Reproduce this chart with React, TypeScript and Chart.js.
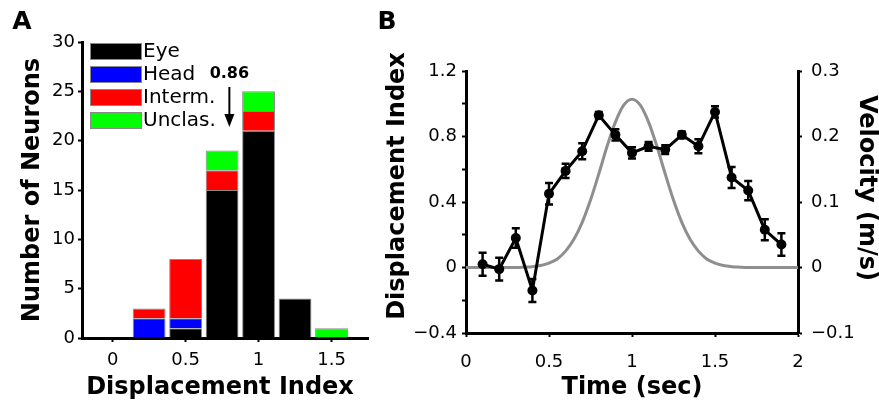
import React, { useEffect, useRef } from 'react';
import { Chart, registerables } from 'chart.js';

Chart.register(...registerables);

const FONT = "'DejaVu Sans', 'Liberation Sans', Arial, sans-serif";

// ---------- Panel A: histogram of displacement index ----------
const histBins = [0.25, 0.5, 0.75, 1.0, 1.25, 1.5];
const eyeCounts = [0, 1, 15, 21, 4, 0];
const headCounts = [2, 1, 0, 0, 0, 0];
const intermCounts = [1, 6, 2, 2, 0, 0];
const unclasCounts = [0, 0, 2, 2, 0, 1];
const classLabels = ['Eye', 'Head', 'Interm.', 'Unclas.'];
const classColors = ['#000000', '#0000ff', '#ff0000', '#00ff00'];
const histXTicks = [0, 0.5, 1, 1.5];
const histXTickLabels = ['0', '0.5', '1', '1.5'];
const histYTicks = [0, 5, 10, 15, 20, 25, 30];
const histYTickLabels = ['0', '5', '10', '15', '20', '25', '30'];
const meanIndexX = 0.8;
const meanIndexLabel = '0.86';

// ---------- Panel B: displacement index over time + velocity ----------
const timePoints = [0.1, 0.2, 0.3, 0.4, 0.5, 0.6, 0.7, 0.8, 0.9, 1.0, 1.1, 1.2, 1.3, 1.4, 1.5, 1.6, 1.7, 1.8, 1.9];
const dispIndex = [0.02, -0.01, 0.18, -0.14, 0.45, 0.59, 0.71, 0.93, 0.81, 0.70, 0.74, 0.72, 0.81, 0.74, 0.95, 0.55, 0.47, 0.23, 0.14];
const dispErr = [0.07, 0.07, 0.06, 0.07, 0.066, 0.043, 0.049, 0.02, 0.035, 0.035, 0.027, 0.027, 0.02, 0.043, 0.034, 0.064, 0.059, 0.064, 0.069];
const velTime = [0, 0.3, 0.35, 0.4, 0.45, 0.5, 0.55, 0.6, 0.65, 0.7, 0.75, 0.8, 0.85, 0.9, 0.95, 1.0, 1.05, 1.1, 1.15, 1.2, 1.25, 1.3, 1.35, 1.4, 1.45, 1.5, 1.55, 1.6, 1.65, 1.7, 2.0];
const velocity = [0, 0, 0.0005, 0.0013, 0.003, 0.0067, 0.013, 0.025, 0.043, 0.069, 0.103, 0.143, 0.185, 0.222, 0.248, 0.257, 0.248, 0.222, 0.185, 0.143, 0.103, 0.069, 0.043, 0.025, 0.013, 0.0067, 0.003, 0.0013, 0.0005, 0, 0];
const timeTicks = [0, 0.5, 1, 1.5, 2];
const timeTickLabels = ['0', '0.5', '1', '1.5', '2'];
const dispTicks = [-0.4, -0.2, 0, 0.2, 0.4, 0.6, 0.8, 1.0, 1.2];
const dispTickLabels = ['\u22120.4', '', '0', '', '0.4', '', '0.8', '', '1.2'];
const velTicks = [-0.1, 0, 0.1, 0.2, 0.3];
const velTickLabels = ['\u22120.1', '0', '0.1', '0.2', '0.3'];

function drawText(
  ctx: CanvasRenderingContext2D,
  text: string,
  x: number,
  y: number,
  font: string,
  rot = 0,
  align: CanvasTextAlign = 'center'
) {
  ctx.save();
  ctx.translate(x, y);
  ctx.rotate(rot);
  ctx.font = font;
  ctx.fillStyle = '#000';
  ctx.textAlign = align;
  ctx.textBaseline = 'middle';
  ctx.fillText(text, 0, 0);
  ctx.restore();
}

const axisCommon = (ticks: number[], labels: string[], pad: number) => ({
  offset: false,
  afterBuildTicks: (s: any) => {
    s.ticks = ticks.map((v) => ({ value: v }));
  },
  ticks: {
    font: { family: FONT, size: 18 },
    color: '#000',
    padding: pad,
    autoSkip: false,
    maxRotation: 0,
    callback: (_v: any, i: number) => labels[i],
  },
  grid: { offset: false, drawOnChartArea: false, drawTicks: true, tickLength: 4, color: '#000', tickWidth: 2 },
  border: { display: true, color: '#000', width: 3 },
});

export default function App() {
  const refA = useRef<HTMLCanvasElement>(null);
  const refB = useRef<HTMLCanvasElement>(null);

  useEffect(() => {
    const series = [eyeCounts, headCounts, intermCounts, unclasCounts];
    const panelAPlugin = {
      id: 'panelA',
      afterDraw(chart: any) {
        const { ctx, chartArea: ca, scales } = chart;
        classLabels.forEach((lab, k) => {
          const bx = ca.left + 8;
          const by = ca.top + 1 + k * 23;
          ctx.save();
          ctx.fillStyle = classColors[k];
          ctx.fillRect(bx, by, 52, 17);
          ctx.strokeStyle = '#8a8a8a';
          ctx.lineWidth = 1;
          ctx.strokeRect(bx + 0.5, by + 0.5, 51, 16);
          ctx.restore();
          drawText(ctx, lab, bx + 53, by + 9, `20px ${FONT}`, 0, 'left');
        });
        const ax = scales.x.getPixelForValue(meanIndexX);
        drawText(ctx, meanIndexLabel, ax, 74, `bold 16px ${FONT}`);
        ctx.save();
        ctx.strokeStyle = '#000';
        ctx.fillStyle = '#000';
        ctx.lineWidth = 2;
        ctx.beginPath();
        ctx.moveTo(ax, 87);
        ctx.lineTo(ax, 117);
        ctx.stroke();
        ctx.beginPath();
        ctx.moveTo(ax - 5, 114);
        ctx.lineTo(ax + 5, 114);
        ctx.lineTo(ax, 127);
        ctx.closePath();
        ctx.fill();
        ctx.restore();
        drawText(ctx, 'Number of Neurons', 33, (ca.top + ca.bottom) / 2, `bold 24px ${FONT}`, -Math.PI / 2);
        drawText(ctx, 'Displacement Index', 220, 388, `bold 24px ${FONT}`);
        drawText(ctx, 'A', 22, 22, `bold 25px ${FONT}`);
      },
    };

    const chartA = new Chart(refA.current!, {
      type: 'bar',
      data: {
        datasets: classLabels.map((lab, k) => ({
          label: lab,
          data: histBins.map((x, i) => ({ x, y: series[k][i] === 0 ? null : series[k][i] })),
          backgroundColor: classColors[k],
          borderColor: '#8a8a8a',
          borderWidth: 1,
          barPercentage: 0.9,
          categoryPercentage: 1,
        })) as any,
      },
      options: {
        animation: false,
        responsive: false,
        devicePixelRatio: 1,
        layout: { padding: { left: 0, right: 72, top: 42, bottom: 0 } },
        plugins: { legend: { display: false }, tooltip: { enabled: false } },
        scales: {
          x: {
            type: 'linear',
            stacked: true,
            min: -0.21,
            max: 1.75,
            afterFit: (s: any) => {
              s.height = 68;
            },
            ...axisCommon(histXTicks, histXTickLabels, 8),
          } as any,
          y: {
            type: 'linear',
            stacked: true,
            min: 0,
            max: 30,
            afterFit: (s: any) => {
              s.width = 82;
            },
            ...axisCommon(histYTicks, histYTickLabels, 3),
          } as any,
        },
      },
      plugins: [panelAPlugin],
    });

    const offB = 370;
    const panelBPlugin = {
      id: 'panelB',
      afterDatasetsDraw(chart: any) {
        const { ctx, scales } = chart;
        ctx.save();
        ctx.strokeStyle = '#000';
        ctx.lineWidth = 2.5;
        timePoints.forEach((t, i) => {
          const x = scales.x.getPixelForValue(t);
          const y1 = scales.y.getPixelForValue(dispIndex[i] + dispErr[i]);
          const y2 = scales.y.getPixelForValue(dispIndex[i] - dispErr[i]);
          ctx.beginPath();
          ctx.moveTo(x, y1);
          ctx.lineTo(x, y2);
          ctx.moveTo(x - 4, y1);
          ctx.lineTo(x + 4, y1);
          ctx.moveTo(x - 4, y2);
          ctx.lineTo(x + 4, y2);
          ctx.stroke();
        });
        ctx.restore();
      },
      afterDraw(chart: any) {
        const { ctx, chartArea: ca } = chart;
        drawText(ctx, 'B', 387 - offB, 22, `bold 25px ${FONT}`);
        drawText(ctx, 'Displacement Index', 398 - offB, 186, `bold 24px ${FONT}`, -Math.PI / 2);
        drawText(ctx, 'Velocity (m/s)', 866 - offB, 188, `bold 24px ${FONT}`, Math.PI / 2);
        drawText(ctx, 'Time (sec)', (ca.left + ca.right) / 2, 388, `bold 24px ${FONT}`);
      },
    };

    const chartB = new Chart(refB.current!, {
      type: 'line',
      data: {
        datasets: [
          {
            label: 'Displacement Index',
            data: timePoints.map((t, i) => ({ x: t, y: dispIndex[i] })),
            borderColor: '#000',
            backgroundColor: '#000',
            borderWidth: 3,
            pointRadius: 5,
            pointBorderWidth: 0,
            yAxisID: 'y',
          },
          {
            label: 'Velocity',
            data: velTime.map((t, i) => ({ x: t, y: velocity[i] })),
            borderColor: '#8e8e8e',
            borderWidth: 3,
            pointRadius: 0,
            cubicInterpolationMode: 'monotone',
            yAxisID: 'y1',
          },
        ] as any,
      },
      options: {
        animation: false,
        responsive: false,
        devicePixelRatio: 1,
        layout: { padding: { left: 0, right: 0, top: 71, bottom: 0 } },
        plugins: { legend: { display: false }, tooltip: { enabled: false } },
        scales: {
          x: {
            type: 'linear',
            min: 0,
            max: 2,
            afterFit: (s: any) => {
              s.height = 73;
            },
            ...axisCommon(timeTicks, timeTickLabels, 15),
          } as any,
          y: {
            type: 'linear',
            position: 'left',
            min: -0.4,
            max: 1.2,
            afterFit: (s: any) => {
              s.width = 96;
            },
            ...axisCommon(dispTicks, dispTickLabels, 5),
          } as any,
          y1: {
            type: 'linear',
            position: 'right',
            min: -0.1,
            max: 0.3,
            afterFit: (s: any) => {
              s.width = 81;
            },
            ...axisCommon(velTicks, velTickLabels, 9),
          } as any,
        },
      },
      plugins: [panelBPlugin],
    });

    return () => {
      chartA.destroy();
      chartB.destroy();
    };
  }, []);

  return (
    <div style={{ position: 'absolute', left: 0, top: 0, width: 879, height: 406, background: '#fff', overflow: 'hidden' }}>
      <canvas ref={refA} width={440} height={406} style={{ position: 'absolute', left: 0, top: 0, width: 440, height: 406 }} />
      <canvas ref={refB} width={509} height={406} style={{ position: 'absolute', left: 370, top: 0, width: 509, height: 406 }} />
    </div>
  );
}
